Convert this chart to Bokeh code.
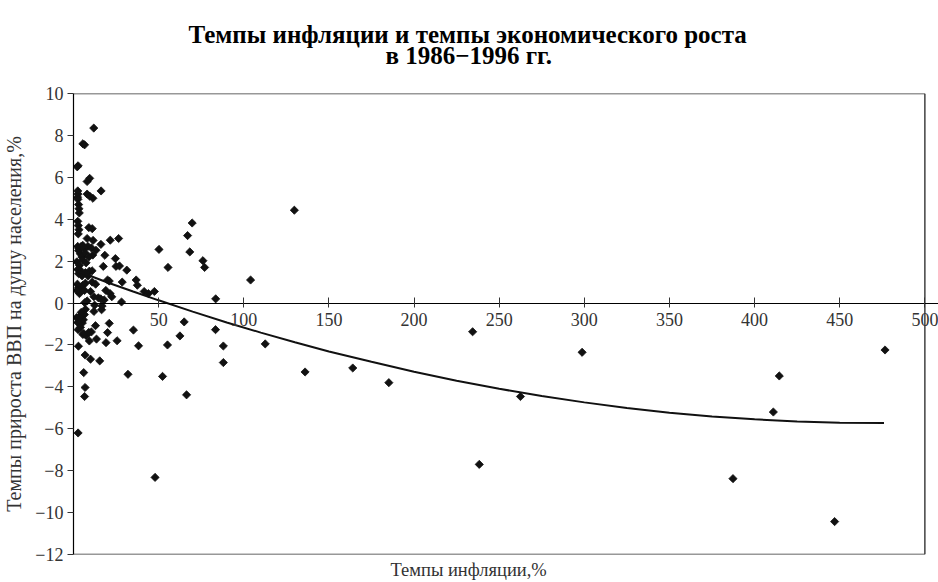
from bokeh.plotting import figure
from bokeh.models import Range1d, LinearAxis, FixedTicker, Title, ColumnDataSource
from bokeh.embed import file_html
from bokeh.resources import INLINE
import math

# ---- data ----
inflation = [
    11.9, 5.5, 6.5, 2.7, 2.2, 2.5, 2.7, 2.4, 2.6, 8.0, 9.5, 8.0, 9.5, 11.4, 16.2,
    3.0, 3.2, 3.4, 2.5, 2.8, 3.2, 2.8, 9.0, 11.0, 8.0, 11.5, 8.5, 16.1, 21.6, 26.5,
    18.4, 24.6, 17.5, 25.0, 27.0, 31.3, 36.8, 37.5, 28.6, 41.5, 44.0, 47.5,
    20.0, 21.0, 19.0, 21.5, 22.5, 28.2, 50.2, 55.5, 67.0, 69.7, 68.3, 76.0, 77.0,
    104.0, 129.7, 83.5,
    2.5, 3.2, 3.0, 4.5, 5.5, 6.5, 4.0, 5.0, 6.8, 10.5, 13.2, 11.3, 9.0,
    2.0, 3.5, 4.0, 5.4, 7.4, 2.5, 3.0, 5.0, 9.3, 10.9, 8.6, 7.0,
    2.3, 3.0, 4.0, 5.5, 6.5, 7.0, 3.5, 2.0, 11.0, 13.0, 10.0, 12.0,
    14.6, 16.0, 18.0, 6.6, 8.0, 12.4, 16.8,
    7.0, 6.4, 5.8, 5.2, 2.5, 1.8, 2.7, 12.0, 16.5, 4.5, 3.5, 4.1,
    21.0, 20.0, 19.1, 12.9, 13.5, 9.3, 10.5, 7.4, 5.5, 6.0, 9.0, 25.6,
    15.4, 10.0, 6.8, 2.9, 6.0, 6.8, 6.5, 2.7,
    35.2, 38.2, 32.0, 47.9, 52.3, 55.2, 62.5, 65.0, 66.4,
    83.4, 88.0, 88.0, 112.6, 136.0, 164.0, 185.2,
    234.4, 238.3, 262.5, 298.7, 387.3, 411.0, 414.5, 447.0, 476.6,
]
gdp_growth = [
    8.35, 7.6, 7.55, 6.55, 6.5, 5.35, 5.2, 5.05, 4.95, 5.8, 5.95, 5.2, 5.1, 5.0, 5.35,
    4.7, 4.5, 4.3, 3.9, 3.7, 3.5, 3.3, 3.6, 3.55, 3.08, 2.99, 2.7, 2.8, 3.0, 3.08,
    2.28, 2.12, 1.75, 1.75, 1.77, 1.57, 1.1, 0.85, 1.0, 0.55, 0.45, 0.55,
    1.1, 1.05, 0.6, 0.45, 0.3, 0.05, 2.56, 1.7, 3.22, 3.82, 2.44, 2.02, 1.7,
    1.1, 4.43, 0.2,
    2.7, 2.6, 2.5, 2.7, 2.75, 2.6, 2.35, 2.2, 2.4, 2.63, 2.52, 2.29, 2.2,
    1.97, 1.8, 1.57, 2.05, 1.92, 1.6, 1.4, 1.3, 1.52, 1.54, 1.29, 1.45,
    0.9, 0.75, 0.65, 0.85, 0.6, 0.95, 0.45, 0.6, 1.0, 0.9, 0.55, 0.3,
    0.25, 0.2, 0.15, 0.02, 0.1, -0.1, -0.14,
    -0.3, -0.55, -0.8, -0.95, -0.93, -0.7, -1.27, -0.4, -0.32, -0.45, -0.65, -1.16,
    -0.97, -1.41, -1.89, -1.08, -1.72, -1.81, -1.38, -1.55, -1.5, -1.45, -1.4, -1.8,
    -2.76, -2.68, -2.48, -2.06, -3.32, -4.03, -4.46, -6.2,
    -1.29, -2.04, -3.4, -8.32, -3.5, -2.0, -1.57, -0.9, -4.38,
    -1.27, -2.05, -2.84, -1.95, -3.29, -3.1, -3.8,
    -1.37, -7.7, -4.46, -2.35, -8.38, -5.2, -3.48, -10.43, -2.24,
]

# trend line
trend_x = [2, 10, 20, 35, 50, 70, 90, 110, 130, 150, 175, 200, 225, 250,
           275, 300, 325, 350, 375, 400, 425, 450, 476]
trend_y = [1.53, 1.29, 0.98, 0.55, 0.13, -0.41, -0.93, -1.41, -1.87, -2.31,
           -2.80, -3.28, -3.71, -4.09, -4.44, -4.74, -5.01, -5.23, -5.41,
           -5.55, -5.65, -5.71, -5.73]

x_ticks = [50, 100, 150, 200, 250, 300, 350, 400, 450, 500]
y_ticks = [-12, -10, -8, -6, -4, -2, 0, 2, 4, 6, 8, 10]
x_min, x_max = 0, 500
y_min, y_max = -12, 10

title_lines = ["Темпы инфляции и темпы экономического роста", "в 1986−1996 гг."]
x_title = "Темпы инфляции,%"
y_title = "Темпы прироста ВВП на душу населения,%"

SERIF = "Liberation Serif"

# the visible frame box ends at x = 500; the range goes a bit further so the
# "500" tick label is not clipped
p = figure(width=938, height=582,
           x_range=Range1d(x_min, 508), y_range=Range1d(y_min, y_max),
           output_backend="svg", toolbar_location=None,
           x_axis_location=None, y_axis_location="left",
           min_border_left=68, min_border_right=0,
           min_border_top=93, min_border_bottom=0)

p.background_fill_color = "white"
p.border_fill_color = "white"
p.outline_line_color = None
p.xgrid.visible = False
p.ygrid.visible = False

# frame box (top, right, bottom)
p.segment(x0=[x_min, x_max, x_min], y0=[y_max, y_min, y_min],
          x1=[x_max, x_max, x_max], y1=[y_max, y_max, y_min],
          line_color="#333333", line_width=1.4)

# left axis
ya = p.yaxis[0]
ya.ticker = FixedTicker(ticks=y_ticks)
ya.major_tick_out = 6
ya.major_tick_in = 0
ya.minor_tick_line_color = None
ya.axis_line_color = "black"
ya.axis_line_width = 1.2
ya.major_tick_line_color = "#333333"
ya.major_label_text_font = SERIF
ya.major_label_text_font_size = "18px"
ya.major_label_text_color = "#333333"
ya.major_label_standoff = 4
ya.axis_label = y_title
ya.axis_label_text_font = SERIF
ya.axis_label_text_font_size = "20px"
ya.axis_label_text_font_style = "normal"
ya.axis_label_text_color = "#333333"
ya.axis_label_standoff = 7

# x axis at y = 0
xa = LinearAxis(fixed_location=0, ticker=FixedTicker(ticks=x_ticks))
xa.major_tick_in = 6
xa.major_tick_out = 4
xa.minor_tick_line_color = None
xa.axis_line_color = "black"
xa.axis_line_width = 1.2
xa.major_tick_line_color = "#333333"
xa.major_label_text_font = SERIF
xa.major_label_text_font_size = "18px"
xa.major_label_text_color = "#333333"
xa.major_label_standoff = 6
p.add_layout(xa, "below")

# x axis title under the frame
p.add_layout(Title(text=x_title, align="left", text_font=SERIF,
                   text_font_size="18.5px", text_font_style="normal",
                   text_color="#333333", offset=317, standoff=6), "below")

# two-line chart title (spacer nearest the frame, then line 2, then line 1)
p.add_layout(Title(text=" ", align="left", text_font_size="1px",
                   standoff=22), "above")
p.add_layout(Title(text=title_lines[1], align="left", text_font=SERIF,
                   text_font_size="25px", text_font_style="bold",
                   text_color="black", offset=312, standoff=0), "above")
p.add_layout(Title(text=title_lines[0], align="left", text_font=SERIF,
                   text_font_size="25px", text_font_style="bold",
                   text_color="black", offset=115, standoff=-16), "above")

# data
src = ColumnDataSource(dict(x=inflation, y=gdp_growth))
p.scatter("x", "y", source=src, marker="square", size=5.8, angle=math.pi / 4,
          fill_color="#111111", line_color="#111111", line_width=0.8)

p.line(trend_x, trend_y, line_color="#111111", line_width=2)

open("out.html", "w").write(file_html(p, INLINE))
